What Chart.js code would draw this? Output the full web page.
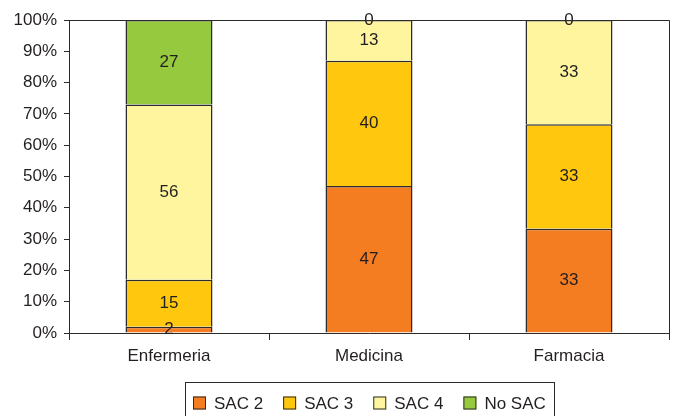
<!DOCTYPE html>
<html>
<head>
<meta charset="utf-8">
<script src="https://cdn.jsdelivr.net/npm/chart.js@4/dist/chart.umd.min.js"></script>
<style>
  html, body { margin: 0; padding: 0; background: #ffffff; }
  canvas { display: block; }
</style>
</head>
<body>
<canvas id="chart" width="674" height="416"></canvas>
<script>
// Distribution of SAC levels by degree programme (counts per group)
const categories = ['Enfermeria', 'Medicina', 'Farmacia'];
const seriesNames = ['SAC 2', 'SAC 3', 'SAC 4', 'No SAC'];
const sac2  = [2, 47, 33];
const sac3  = [15, 40, 33];
const sac4  = [56, 13, 33];
const noSac = [27, 0, 0];
const seriesColors = ['#F47D22', '#FFC70D', '#FEF59E', '#96C93D'];

const FONT = "'Liberation Sans', Arial, Helvetica, sans-serif";
const INK = '#231F20';
const LINE = '#2b2b2b';

const series = [sac2, sac3, sac4, noSac];
// each column is shown as 100% of its group
const totals = categories.map((_, j) => series.reduce((s, arr) => s + arr[j], 0));
const toPercent = arr => arr.map((v, j) => v / totals[j] * 100);

const datasets = series.map((arr, i) => ({
  label: seriesNames[i],
  data: toPercent(arr),
  raw: arr,
  backgroundColor: seriesColors[i],
  borderColor: LINE,
  borderWidth: 1.5,
  borderSkipped: 'start',
  inflateAmount: 0,
  barPercentage: 0.435,
  categoryPercentage: 1.0
}));

// value labels centred in each segment
const segmentLabels = {
  id: 'segmentLabels',
  afterDatasetsDraw(chart) {
    const ctx = chart.ctx;
    ctx.save();
    ctx.font = '17px ' + FONT;
    ctx.fillStyle = INK;
    ctx.textAlign = 'center';
    ctx.textBaseline = 'middle';
    chart.data.datasets.forEach((ds, i) => {
      chart.getDatasetMeta(i).data.forEach((bar, j) => {
        const p = bar.getProps(['x', 'y', 'base'], true);
        ctx.fillText(String(ds.raw[j]), p.x, (p.y + p.base) / 2);
      });
    });
    ctx.restore();
  }
};

// closes the plot box on top and right, and draws the boxed legend below
const frameAndLegend = {
  id: 'frameAndLegend',
  afterDraw(chart) {
    const ctx = chart.ctx;
    const a = chart.chartArea;
    ctx.save();
    ctx.strokeStyle = LINE;
    ctx.lineWidth = 1;
    ctx.beginPath();
    ctx.moveTo(a.left, Math.round(a.top) + 0.5);
    ctx.lineTo(Math.round(a.right) + 0.5, Math.round(a.top) + 0.5);
    ctx.lineTo(Math.round(a.right) + 0.5, a.bottom);
    ctx.stroke();

    // legend
    ctx.font = '17px ' + FONT;
    const box = 13, gapText = 8, gapItem = 20, pad = 8;
    const widths = chart.data.datasets.map(ds => box + gapText + ctx.measureText(ds.label).width);
    const inner = widths.reduce((s, w) => s + w, 0) + gapItem * (widths.length - 1);
    const total = inner + pad * 2;
    const cx = (a.left + a.right) / 2;
    const left = Math.round(cx - total / 2);
    const top = a.bottom + 49;
    ctx.strokeStyle = LINE;
    ctx.strokeRect(left + 0.5, top + 0.5, Math.round(total), 60);
    let x = left + pad;
    const cy = top + 21;
    ctx.textAlign = 'left';
    ctx.textBaseline = 'middle';
    chart.data.datasets.forEach((ds, i) => {
      ctx.fillStyle = ds.backgroundColor;
      ctx.fillRect(x, cy - box / 2, box, box);
      ctx.strokeStyle = LINE;
      ctx.strokeRect(x + 0.5, cy - box / 2 + 0.5, box - 1, box - 1);
      ctx.fillStyle = INK;
      ctx.fillText(ds.label, x + box + gapText, cy + 1);
      x += widths[i] + gapItem;
    });
    ctx.restore();
  }
};

new Chart(document.getElementById('chart'), {
  type: 'bar',
  data: { labels: categories, datasets },
  options: {
    responsive: false,
    animation: false,
    layout: { padding: { left: 0, right: 5, top: 20, bottom: 43 } },
    plugins: {
      legend: { display: false },
      tooltip: { enabled: false }
    },
    scales: {
      x: {
        stacked: true,
        offset: true,
        grid: { display: true, drawOnChartArea: false, drawTicks: true, tickLength: 7, color: LINE, offset: true },
        border: { display: true, color: LINE, width: 1 },
        ticks: { color: INK, font: { family: FONT, size: 17 }, padding: 6, maxRotation: 0 },
        afterFit(scale) { scale.height = 40; }
      },
      y: {
        stacked: true,
        min: 0,
        max: 100,
        grid: { display: true, drawOnChartArea: false, drawTicks: true, tickLength: 5, color: LINE },
        border: { display: true, color: LINE, width: 1 },
        ticks: {
          stepSize: 10,
          color: INK,
          font: { family: FONT, size: 17 },
          padding: 7,
          callback: v => v + '%'
        },
        afterFit(scale) { scale.width = 69; }
      }
    }
  },
  plugins: [segmentLabels, frameAndLegend]
});
</script>
</body>
</html>
